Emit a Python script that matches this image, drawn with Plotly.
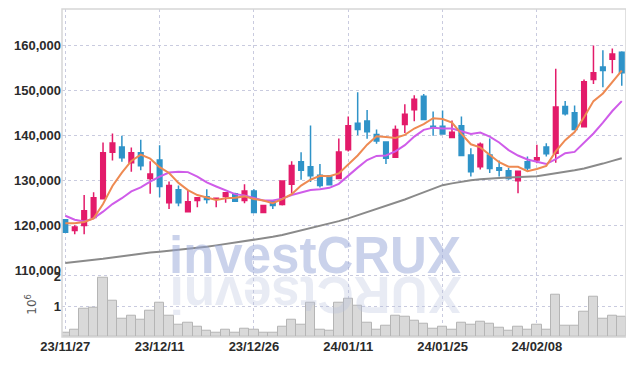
import plotly.graph_objects as go

dates = [
    "2023-11-27", "2023-11-28", "2023-11-29", "2023-11-30", "2023-12-01",
    "2023-12-04", "2023-12-05", "2023-12-06", "2023-12-07", "2023-12-08",
    "2023-12-11", "2023-12-12", "2023-12-13", "2023-12-14", "2023-12-15",
    "2023-12-18", "2023-12-19", "2023-12-20", "2023-12-21", "2023-12-22",
    "2023-12-26", "2023-12-27", "2023-12-28", "2024-01-02", "2024-01-03",
    "2024-01-04", "2024-01-05", "2024-01-08", "2024-01-09", "2024-01-10",
    "2024-01-11", "2024-01-12", "2024-01-15", "2024-01-16", "2024-01-17",
    "2024-01-18", "2024-01-19", "2024-01-22", "2024-01-23", "2024-01-24",
    "2024-01-25", "2024-01-26", "2024-01-29", "2024-01-30", "2024-01-31",
    "2024-02-01", "2024-02-02", "2024-02-05", "2024-02-06", "2024-02-07",
    "2024-02-08", "2024-02-13", "2024-02-14", "2024-02-15", "2024-02-16",
    "2024-02-19", "2024-02-20", "2024-02-21", "2024-02-22", "2024-02-23",
]

opens = [121200, 118800, 119900, 121700, 125900, 136200, 137400, 133900, 136100, 130400,
         134500, 125000, 127900, 123000, 125500, 126300, 125800, 126400, 127000, 125500,
         127600, 122800, 125200, 124600, 129100, 134100, 133000, 131100, 131000, 130400,
         136800, 142700, 143200, 140200, 138500, 135100, 142400, 145700, 148700, 142000,
         142000, 139500, 142100, 135600, 133000, 135600, 132800, 132100, 129900, 134100,
         134500, 137400, 136000, 146400, 145000, 141900, 152400, 155200, 156900, 158500]
highs = [121200, 120000, 126700, 127300, 138400, 140400, 139900, 137300, 139000, 134200,
         137800, 129700, 128800, 127800, 126100, 128000, 126100, 127200, 127200, 129100,
         128000, 124400, 125200, 130000, 134200, 136200, 142200, 133600, 131100, 139300,
         144200, 149600, 145600, 141300, 138600, 142200, 146900, 148900, 149200, 145300,
         145500, 143300, 144200, 137100, 138400, 139300, 134400, 132700, 132100, 135300,
         137900, 138200, 154800, 147600, 146600, 152400, 160000, 158900, 159300, 158700]
lows = [118400, 118000, 118000, 121500, 125900, 134400, 134100, 131900, 132200, 127000,
        126200, 123600, 124200, 123000, 124000, 124800, 124000, 125000, 125200, 124900,
        122800, 122800, 123600, 124400, 127100, 130100, 129600, 128400, 129000, 130400,
        136400, 140000, 139200, 138100, 133600, 135000, 140500, 143100, 143400, 139900,
        140300, 139400, 135400, 130800, 132400, 131600, 130800, 130100, 127100, 132200,
        133800, 135300, 133900, 144400, 141300, 141900, 151400, 150700, 153800, 151000]
closes = [118400, 119600, 123200, 126100, 136100, 138300, 135000, 136100, 133200, 131400,
          128600, 128800, 125000, 125200, 126100, 125700, 126000, 127200, 125300, 127600,
          122800, 124400, 124400, 129800, 133300, 132200, 131000, 128800, 129000, 136300,
          142100, 141300, 140800, 138700, 134900, 141300, 144700, 148000, 143500, 141700,
          140300, 140700, 135500, 131900, 138000, 132600, 132200, 130400, 132000, 132700,
          135000, 135900, 146300, 144800, 141300, 151900, 153900, 154400, 158100, 153900]

ma5 = [120400, 120400, 120700, 121500, 124700, 128700, 131700, 134300, 135700, 134800,
       132900, 131600, 129400, 127800, 126700, 126200, 125600, 126000, 126100, 126400,
       125800, 125500, 124900, 125800, 126900, 128800, 130100, 131000, 130900, 131500,
       133400, 135500, 137900, 139800, 139600, 139400, 140100, 141500, 142500, 143800,
       143600, 142800, 140300, 138000, 137300, 135700, 134000, 133000, 133000, 132000,
       132500, 133200, 136400, 138900, 140700, 144000, 147600, 149300, 151900, 154400]
ma10 = [122100, 121200, 120800, 121500, 123000, 124700, 126000, 127500, 128400, 129700,
        130800, 131700, 131900, 131800, 130800, 129500, 128600, 127700, 126900, 126600,
        126000, 125500, 125500, 125900, 126700, 127300, 127800, 128000, 128300, 129200,
        131100, 132800, 134500, 135400, 135500, 136400, 137800, 139700, 141200, 141700,
        141500, 141500, 140900, 140300, 140600, 139700, 138400, 136700, 135500, 134600,
        134100, 133600, 134700, 136000, 136300, 138300, 140400, 142800, 145400, 147600]
ma60 = [111600, 111800, 112000, 112200, 112500, 112800, 113100, 113400, 113600, 113900,
        114100, 114300, 114500, 114700, 114900, 115200, 115500, 115800, 116100, 116400,
        116700, 117000, 117400, 117800, 118300, 118800, 119300, 119800, 120400, 120900,
        121500, 122200, 122900, 123500, 124200, 124900, 125700, 126500, 127300, 128100,
        128900, 129300, 129700, 130000, 130200, 130400, 130500, 130600, 130700, 130800,
        130900, 131200, 131500, 131800, 132200, 132600, 133100, 133700, 134300, 134900]

volumes = [130000, 240000, 930000, 960000, 1930000, 1180000, 600000, 690000, 560000, 850000,
           1140000, 690000, 390000, 460000, 330000, 200000, 130000, 230000, 130000, 260000,
           230000, 130000, 130000, 330000, 560000, 390000, 1140000, 230000, 200000, 1110000,
           1240000, 1010000, 470000, 230000, 360000, 690000, 650000, 520000, 420000, 260000,
           330000, 230000, 470000, 390000, 490000, 420000, 290000, 200000, 330000, 230000,
           390000, 230000, 1370000, 360000, 360000, 820000, 1310000, 590000, 690000, 650000]

tick_dates = [dates[0], dates[10], dates[20], dates[30], dates[40], dates[50]]
tick_labels = ["23/11/27", "23/12/11", "23/12/26", "24/01/11", "24/01/25", "24/02/08"]
price_ticks = [110000, 120000, 130000, 140000, 150000, 160000]
price_tick_labels = ["110,000", "120,000", "130,000", "140,000", "150,000", "160,000"]
vol_ticks = [1000000, 2000000]
vol_tick_labels = ["1", "2"]

FONT = "Liberation Sans, Arial, sans-serif"
GRID = "#c9cbdf"
TICKFONT = dict(family=FONT, size=13, color="#2b2b2b", weight="bold")

fig = go.Figure()

fig.add_trace(go.Bar(
    x=dates, y=volumes, yaxis="y2", xaxis="x",
    marker=dict(color="#d9d9d9", line=dict(color="#b5b5b5", width=1)),
    hoverinfo="skip", showlegend=False,
))

fig.add_trace(go.Scatter(x=dates, y=ma60, mode="lines",
                         line=dict(color="#8a8a8a", width=2), showlegend=False))
fig.add_trace(go.Scatter(x=dates, y=ma10, mode="lines",
                         line=dict(color="#cf5ce9", width=2), showlegend=False))
fig.add_trace(go.Scatter(x=dates, y=ma5, mode="lines",
                         line=dict(color="#ee8a52", width=2), showlegend=False))

fig.add_trace(go.Candlestick(
    x=dates, open=opens, high=highs, low=lows, close=closes,
    increasing=dict(line=dict(color="#e31b6a", width=1.5), fillcolor="#e31b6a"),
    decreasing=dict(line=dict(color="#2f93c8", width=1.5), fillcolor="#2f93c8"),
    whiskerwidth=0, showlegend=False,
))

# The page body keeps an 8px default margin, so the figure is sized 8px smaller
fig.update_layout(
    width=626, height=358,
    margin=dict(l=54, r=8, t=1, b=29),
    paper_bgcolor="white", plot_bgcolor="white",
    showlegend=False, bargap=0, boxgap=0.3,
    font=dict(family=FONT, color="#2b2b2b"),
    xaxis=dict(
        type="category", anchor="y2", range=[-0.35, 59.45],
        tickvals=tick_dates, ticktext=tick_labels,
        showgrid=True, gridcolor=GRID, griddash="dot", gridwidth=1,
        tickfont=TICKFONT, automargin=False,
        ticks="", rangeslider=dict(visible=False), zeroline=False,
        showline=False,
    ),
    yaxis=dict(
        domain=[0.204, 1], range=[110000, 168100],
        tickvals=price_ticks, ticktext=price_tick_labels,
        showgrid=True, gridcolor=GRID, griddash="dot", gridwidth=1,
        tickfont=TICKFONT, automargin=False,
        ticks="", zeroline=False, showline=False,
    ),
    yaxis2=dict(
        domain=[0, 0.199], range=[0, 2140000],
        tickvals=vol_ticks, ticktext=vol_tick_labels,
        showgrid=True, gridcolor=GRID, griddash="dot", gridwidth=1,
        tickfont=TICKFONT, automargin=False,
        ticks="", zeroline=False, showline=False,
        title=dict(text="10<sup>6</sup>", font=dict(family="DejaVu Sans", size=12, color="#555"), standoff=14),
    ),
    shapes=[dict(type="rect", xref="paper", yref="paper", x0=0, x1=1, y0=0, y1=1,
                 line=dict(color="#d6d6d6", width=1.5), layer="above")],
    annotations=[
        dict(text="<b>investCRUX</b>", xref="paper", yref="paper", x=0.449, y=0.25,
             xanchor="center", yanchor="middle", showarrow=False,
             font=dict(family="Liberation Sans, Arial, sans-serif", size=51, color="rgba(150,165,215,0.5)")),
        dict(text="<b>XURCtsevni</b>", xref="paper", yref="paper", x=0.449, y=0.13,
             xanchor="center", yanchor="middle", showarrow=False, textangle=180,
             font=dict(family="Liberation Sans, Arial, sans-serif", size=51, color="rgba(185,192,222,0.32)")),
    ],
)

fig.write_html("out.html")
